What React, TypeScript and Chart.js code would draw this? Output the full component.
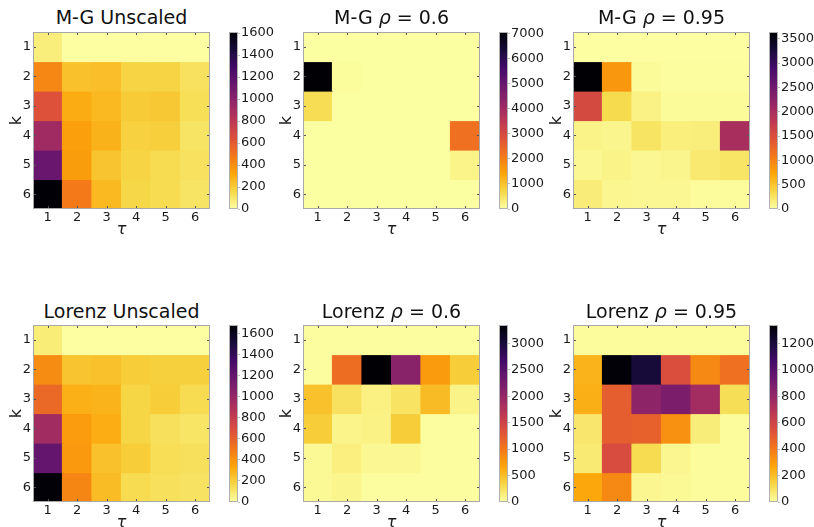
import React, { useEffect, useRef } from 'react';
import { Chart, registerables } from 'chart.js';
Chart.register(...registerables);

// ---------- data ----------
const tauLabels = ['1', '2', '3', '4', '5', '6'];
const kValues = [1, 2, 3, 4, 5, 6];

// rows = k (1..6), columns = tau (1..6)
const mgUnscaled = [
  [70, 5, 5, 5, 5, 5],
  [430, 230, 240, 170, 170, 120],
  [645, 300, 260, 200, 210, 130],
  [920, 340, 280, 180, 190, 110],
  [1130, 350, 220, 170, 140, 120],
  [1605, 480, 260, 160, 140, 110],
];
const mgRho06 = [
  [15, 15, 15, 15, 15, 15],
  [7050, 60, 15, 15, 15, 15],
  [600, 15, 15, 15, 15, 15],
  [15, 15, 15, 15, 15, 2260],
  [15, 15, 15, 15, 15, 200],
  [15, 15, 15, 15, 15, 15],
];
const mgRho095 = [
  [10, 10, 10, 10, 10, 10],
  [3630, 840, 40, 20, 20, 20],
  [1560, 330, 120, 40, 40, 40],
  [110, 90, 250, 150, 160, 2000],
  [60, 110, 60, 90, 200, 240],
  [170, 80, 60, 70, 30, 30],
];
const lzUnscaled = [
  [80, 5, 5, 5, 5, 5],
  [430, 230, 240, 200, 190, 190],
  [570, 300, 290, 170, 200, 150],
  [950, 370, 310, 170, 130, 110],
  [1200, 380, 240, 200, 140, 130],
  [1670, 450, 260, 150, 130, 120],
];
const lzRho06 = [
  [20, 20, 20, 20, 20, 20],
  [20, 1100, 3340, 2100, 740, 400],
  [480, 250, 120, 230, 520, 100],
  [400, 90, 110, 400, 20, 20],
  [50, 130, 60, 60, 20, 20],
  [50, 80, 20, 20, 20, 20],
];
const lzRho095 = [
  [10, 10, 10, 10, 10, 10],
  [230, 1330, 1200, 550, 350, 430],
  [240, 490, 820, 880, 750, 110],
  [80, 490, 480, 330, 60, 10],
  [70, 560, 120, 30, 10, 10],
  [260, 350, 30, 20, 10, 10],
];

const vmaxes = [1610, 7068, 3638, 1678, 3344, 1338];
const cbTicksMg = [0, 200, 400, 600, 800, 1000, 1200, 1400, 1600];
const cbTicksMg06 = [0, 1000, 2000, 3000, 4000, 5000, 6000, 7000];
const cbTicksMg095 = [0, 500, 1000, 1500, 2000, 2500, 3000, 3500];
const cbTicksLz = [0, 200, 400, 600, 800, 1000, 1200, 1400, 1600];
const cbTicksLz06 = [0, 500, 1000, 1500, 2000, 2500, 3000];
const cbTicksLz095 = [0, 200, 400, 600, 800, 1000, 1200];

// ---------- colormap (inferno, reversed) ----------
const inferno = ['#000004', '#160b39', '#420a68', '#6a176e', '#932667', '#bc3754', '#dd513a', '#f37819', '#fca50a', '#f6d746', '#fcffa4'];
function hexToRgb(h: string) {
  return [parseInt(h.slice(1, 3), 16), parseInt(h.slice(3, 5), 16), parseInt(h.slice(5, 7), 16)];
}
const infernoRgb = inferno.map(hexToRgb);
function infernoR(t: number) {
  const u = 1 - Math.max(0, Math.min(1, t));
  const n = infernoRgb.length - 1;
  const p = u * n;
  const i = Math.min(n - 1, Math.floor(p));
  const f = p - i;
  const a = infernoRgb[i], b = infernoRgb[i + 1];
  const c = a.map((v, j) => Math.round(v + (b[j] - v) * f));
  return `rgb(${c[0]},${c[1]},${c[2]})`;
}

// ---------- layout ----------
const PLOT = 177;
const CBW = 9;
const plotLefts = [33, 303, 573];
const plotTops = [32, 325];
const cbLefts = [229, 499, 769];
const YAXW = 33;
const XAXH = 30;
const PAD = 12;
const CBAXW = 46;

const tickFont = { family: '"DejaVu Sans", sans-serif', size: 13 };
const textColor = '#1a1a1a';

const framePlugin = {
  id: 'frame',
  afterDraw(chart: any, _a: any, opts: any) {
    const { ctx, chartArea: a } = chart;
    ctx.save();
    if (opts.ticks) {
      ctx.strokeStyle = '#555';
      ctx.lineWidth = 1;
      const xs = chart.scales.x, ys = chart.scales.y;
      ctx.beginPath();
      xs.ticks.forEach((_t: any, i: number) => {
        const x = Math.round(xs.getPixelForTick(i)) + 0.5;
        ctx.moveTo(x, a.top); ctx.lineTo(x, a.top + 3);
        ctx.moveTo(x, a.bottom); ctx.lineTo(x, a.bottom - 3);
      });
      ys.ticks.forEach((t: any) => {
        const y = Math.round(ys.getPixelForValue(t.value)) + 0.5;
        ctx.moveTo(a.left, y); ctx.lineTo(a.left + 3, y);
        ctx.moveTo(a.right, y); ctx.lineTo(a.right - 3, y);
      });
      ctx.stroke();
    }
    ctx.strokeStyle = opts.color || '#aaa';
    ctx.lineWidth = 1;
    ctx.strokeRect(a.left + 0.5, a.top + 0.5, a.right - a.left - 1, a.bottom - a.top - 1);
    ctx.restore();
  },
};

function heatConfig(values: number[][], vmax: number): any {
  return {
    type: 'bar',
    data: {
      labels: tauLabels,
      datasets: kValues.map((k, r) => ({
        data: tauLabels.map(() => [k - 0.5, k + 0.5]),
        backgroundColor: values[r].map((v) => infernoR(v / vmax)),
        borderWidth: 0,
        inflateAmount: 0.6,
        grouped: false,
        barPercentage: 1,
        categoryPercentage: 1,
      })),
    },
    options: {
      animation: false,
      responsive: false,
      events: [],
      layout: { padding: { top: PAD, right: 4, left: 0, bottom: 0 } },
      plugins: { legend: { display: false }, tooltip: { enabled: false }, frame: { ticks: true, color: '#a8a8a8' } },
      scales: {
        x: {
          type: 'category',
          grid: { display: false, drawTicks: false },
          border: { display: false },
          ticks: { padding: 1, font: tickFont, color: textColor, maxRotation: 0 },
          title: { display: true, text: 'τ', color: textColor, font: { family: '"DejaVu Sans", sans-serif', size: 16, style: 'italic' }, padding: 0 },
          afterFit: (s: any) => { s.height = XAXH; },
        },
        y: {
          type: 'linear',
          min: 0.5,
          max: 6.5,
          reverse: true,
          grid: { display: false, drawTicks: false },
          border: { display: false },
          afterBuildTicks: (s: any) => { s.ticks = kValues.map((v) => ({ value: v })); },
          ticks: { padding: 2, font: tickFont, color: textColor, callback: (v: any) => String(v) },
          title: { display: true, text: 'k', color: textColor, font: { family: '"DejaVu Sans", sans-serif', size: 16 }, padding: { top: 7, bottom: 0 } },
          afterFit: (s: any) => { s.width = YAXW; },
        },
      },
    },
    plugins: [framePlugin],
  };
}

function cbConfig(vmax: number, ticks: number[]): any {
  return {
    type: 'bar',
    data: {
      labels: [''],
      datasets: [
        {
          data: [[0, vmax]],
          backgroundColor: (ctx: any) => {
            const chart = ctx.chart;
            const ys = chart.scales.y;
            if (!chart.chartArea || !ys) return '#fff';
            const g = chart.ctx.createLinearGradient(0, ys.getPixelForValue(0), 0, ys.getPixelForValue(vmax));
            for (let i = 0; i <= 40; i++) g.addColorStop(i / 40, infernoR(i / 40));
            return g;
          },
          borderWidth: 0,
          barPercentage: 1,
          categoryPercentage: 1,
          inflateAmount: 0,
        },
      ],
    },
    options: {
      animation: false,
      responsive: false,
      events: [],
      layout: { padding: { top: PAD, bottom: PAD, left: 0, right: 0 } },
      plugins: { legend: { display: false }, tooltip: { enabled: false }, frame: { ticks: false, color: '#b0b0b0' } },
      scales: {
        x: { display: false },
        y: {
          position: 'right',
          min: 0,
          max: vmax,
          afterBuildTicks: (s: any) => { s.ticks = ticks.map((v) => ({ value: v })); },
          grid: { drawOnChartArea: false, drawTicks: true, tickLength: 2, color: '#bbb' },
          border: { display: false },
          ticks: { padding: 1, font: tickFont, color: textColor, callback: (v: any) => String(v) },
          afterFit: (s: any) => { s.width = CBAXW; },
        },
      },
    },
    plugins: [framePlugin],
  };
}

function ChartCanvas({ config, left, top, width, height }: any) {
  const ref = useRef<HTMLCanvasElement>(null);
  useEffect(() => {
    const c = new Chart(ref.current as HTMLCanvasElement, config);
    return () => c.destroy();
  }, []);
  return (
    <canvas
      ref={ref}
      width={width}
      height={height}
      style={{ position: 'absolute', left, top, width, height }}
    />
  );
}

function Panel({ title, values, vmax, ticks, col, row }: any) {
  const pl = plotLefts[col];
  const pt = plotTops[row];
  const cl = cbLefts[col];
  return (
    <>
      <div
        style={{
          position: 'absolute',
          left: pl - 40,
          width: PLOT + 80,
          top: row === 0 ? 6 : 300,
          textAlign: 'center',
          fontFamily: '"DejaVu Sans", sans-serif',
          fontSize: 19,
          lineHeight: '22px',
          color: '#111',
          whiteSpace: 'nowrap',
        }}
      >
        {title}
      </div>
      <ChartCanvas
        config={heatConfig(values, vmax)}
        left={pl - YAXW}
        top={pt - PAD}
        width={YAXW + PLOT + 4}
        height={PAD + PLOT + XAXH}
      />
      <ChartCanvas
        config={cbConfig(vmax, ticks)}
        left={cl}
        top={pt - PAD}
        width={CBW + CBAXW}
        height={PAD + PLOT + PAD}
      />
    </>
  );
}

export default function App() {
  return (
    <div
      style={{
        position: 'fixed',
        left: 0,
        top: 0,
        width: 814,
        height: 527,
        overflow: 'hidden',
        background: '#fff',
      }}
    >
      <Panel title="M-G Unscaled" values={mgUnscaled} vmax={vmaxes[0]} ticks={cbTicksMg} col={0} row={0} />
      <Panel title={<>M-G <i>ρ</i> = 0.6</>} values={mgRho06} vmax={vmaxes[1]} ticks={cbTicksMg06} col={1} row={0} />
      <Panel title={<>M-G <i>ρ</i> = 0.95</>} values={mgRho095} vmax={vmaxes[2]} ticks={cbTicksMg095} col={2} row={0} />
      <Panel title="Lorenz Unscaled" values={lzUnscaled} vmax={vmaxes[3]} ticks={cbTicksLz} col={0} row={1} />
      <Panel title={<>Lorenz <i>ρ</i> = 0.6</>} values={lzRho06} vmax={vmaxes[4]} ticks={cbTicksLz06} col={1} row={1} />
      <Panel title={<>Lorenz <i>ρ</i> = 0.95</>} values={lzRho095} vmax={vmaxes[5]} ticks={cbTicksLz095} col={2} row={1} />
    </div>
  );
}
